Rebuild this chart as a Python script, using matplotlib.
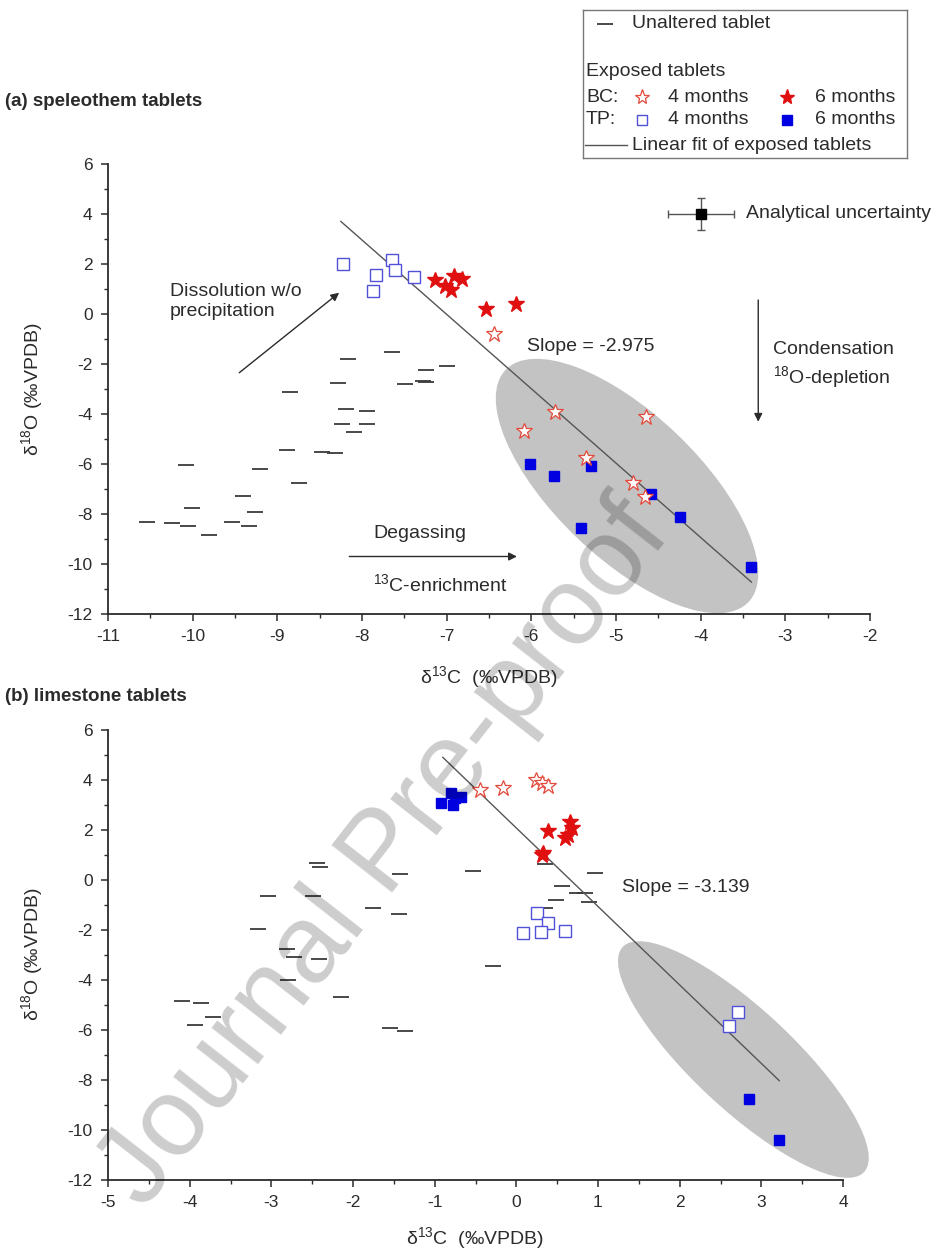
"""
Stable isotope cross-plot of speleothem and limestone tablets (d13C vs d18O).
"""

import matplotlib

matplotlib.use("Agg")
import matplotlib.pyplot as plt
from matplotlib.patches import Ellipse
from matplotlib.ticker import MultipleLocator
from matplotlib.transforms import IdentityTransform

# ─────────────────────────────────────────────
# DATA — (a) speleothem tablets
# ─────────────────────────────────────────────
a_unalt_x = [-8.17, -7.64, -7.00, -7.24, -8.28, -7.49, -7.28, -7.24, -8.85, -8.19, -7.94, -8.24, -7.94,
             -8.09, -8.88, -8.47, -8.32, -8.74, -10.08, -9.21, -9.41, -10.01, -9.26, -10.54, -10.24,
             -10.05, -9.81, -9.53, -9.34]
a_unalt_y = [-1.80, -1.53, -2.07, -2.24, -2.77, -2.80, -2.67, -2.72, -3.13, -3.80, -3.87, -4.41, -4.41,
             -4.73, -5.44, -5.52, -5.57, -6.77, -6.04, -6.19, -7.28, -7.77, -7.91, -8.31, -8.37,
             -8.47, -8.84, -8.33, -8.47]
a_bc4_x = [-6.44, -5.72, -6.09, -4.65, -5.35, -4.80, -4.66]
a_bc4_y = [-0.80, -3.91, -4.67, -4.11, -5.75, -6.75, -7.31]
a_bc6_x = [-7.14, -7.02, -6.95, -6.91, -6.82, -6.53, -6.18]
a_bc6_y = [1.36, 1.12, 0.96, 1.52, 1.39, 0.19, 0.39]
a_tp4_x = [-8.23, -7.83, -7.87, -7.65, -7.61, -7.39]
a_tp4_y = [2.00, 1.56, 0.93, 2.16, 1.76, 1.49]
a_tp6_x = [-6.02, -5.73, -5.30, -5.41, -4.59, -4.24, -3.41]
a_tp6_y = [-6.01, -6.47, -6.07, -8.57, -7.20, -8.11, -10.13]
a_fit_slope = -2.975
a_fit_icpt = -20.84
a_fit_x = [-8.25, -3.40]

# ─────────────────────────────────────────────
# DATA — (b) limestone tablets
# ─────────────────────────────────────────────
b_unalt_x = [-2.44, -2.40, -3.04, -2.49, -1.43, -0.53, -1.75, -1.44, -3.16, -2.81, -2.72, -2.42, -2.80,
             -2.15, -4.10, -3.86, -3.71, -3.93, -1.55, -1.36, -0.29, 0.35, 0.96, 0.56, 0.74, 0.84,
             0.49, 0.89, 0.35]
b_unalt_y = [0.65, 0.51, -0.66, -0.66, 0.22, 0.35, -1.13, -1.38, -1.97, -2.79, -3.11, -3.17, -4.03,
             -4.69, -4.85, -4.95, -5.50, -5.82, -5.95, -6.05, -3.46, 0.61, 0.27, -0.26, -0.55, -0.55,
             -0.82, -0.89, -1.15]
b_bc4_x = [-0.45, -0.16, 0.24, 0.31, 0.39]
b_bc4_y = [3.58, 3.67, 4.00, 3.87, 3.74]
b_bc6_x = [0.39, 0.66, 0.68, 0.63, 0.60, 0.31, 0.33]
b_bc6_y = [1.95, 2.30, 2.05, 1.80, 1.65, 0.98, 1.05]
b_tp4_x = [0.25, 0.39, 0.08, 0.30, 0.60, 2.72, 2.60]
b_tp4_y = [-1.35, -1.75, -2.13, -2.09, -2.05, -5.29, -5.86]
b_tp6_x = [-0.92, -0.78, -0.75, -0.68, -0.80, 2.85, 3.22]
b_tp6_y = [3.05, 3.00, 3.25, 3.30, 3.45, -8.79, -10.42]
b_fit_slope = -3.139
b_fit_icpt = 2.06
b_fit_x = [-0.90, 3.22]

# ─────────────────────────────────────────────
# STYLE
# ─────────────────────────────────────────────
INK = "#2b2b2b"
DASH = "#3a3a3a"
RED = "#e01010"
RED_OPEN = "#e24a3c"
BLUE = "#0000e0"
BLUE_OPEN = "#5050d8"
FIT = "#555555"
SHADE = "#c3c3c3"

plt.rcParams.update(
    {
        "font.family": ["Liberation Sans", "DejaVu Sans"],
        "mathtext.fontset": "custom",
        "mathtext.rm": "Liberation Sans",
        "mathtext.it": "Liberation Sans:italic",
        "mathtext.bf": "Liberation Sans:bold",
        "axes.unicode_minus": False,
        "font.size": 14,
        "text.color": INK,
    }
)

W, H = 939.0, 1253.0
fig = plt.figure(figsize=(W / 100, H / 100), dpi=100)


def px_rect(left, top, right, bottom):
    return [left / W, 1 - bottom / H, (right - left) / W, (bottom - top) / H]


def style_axes(ax, xlim, xpad):
    ax.set_xlim(*xlim)
    ax.set_ylim(-12, 6)
    ax.set_facecolor("none")
    ax.xaxis.set_major_locator(MultipleLocator(1))
    ax.xaxis.set_minor_locator(MultipleLocator(0.5))
    ax.yaxis.set_major_locator(MultipleLocator(2))
    ax.yaxis.set_minor_locator(MultipleLocator(1))
    for s in ("top", "right"):
        ax.spines[s].set_visible(False)
    for s in ("left", "bottom"):
        ax.spines[s].set_linewidth(1.3)
        ax.spines[s].set_color(INK)
    ax.tick_params(which="major", direction="out", length=5, width=1.1, labelsize=12.5, colors=INK, pad=6)
    ax.tick_params(which="minor", direction="out", length=3, width=1.0, colors=INK)
    ax.set_xlabel("δ$^{13}$C  (‰VPDB)", fontsize=14, labelpad=xpad, color=INK)
    ax.set_ylabel("δ$^{18}$O (‰VPDB)", fontsize=14, labelpad=16, color=INK)


def shade(ax, center, half_long, half_short, angle):
    # ellipse drawn in pixel space so it keeps its shape on the unequal axes
    cx, cy = ax.transData.transform(center)
    ax.add_patch(
        Ellipse((cx, cy), 2 * half_long, 2 * half_short, angle=angle, transform=IdentityTransform(),
                facecolor=SHADE, edgecolor="none", zorder=1, clip_on=False)
    )


def draw_points(ax, ux, uy, bc4x, bc4y, bc6x, bc6y, tp4x, tp4y, tp6x, tp6y, slope, icpt, fitx):
    ax.plot(ux, uy, ls="none", marker="_", ms=12, mew=1.3, color=DASH, zorder=3)
    fy = [slope * v + icpt for v in fitx]
    ax.plot(fitx, fy, color=FIT, lw=1.0, zorder=4)
    ax.plot(tp4x, tp4y, ls="none", marker="s", ms=8, mfc="white", mec=BLUE_OPEN, mew=1.0, zorder=5)
    ax.plot(tp6x, tp6y, ls="none", marker="s", ms=7.5, color=BLUE, zorder=5)
    ax.plot(bc4x, bc4y, ls="none", marker="*", ms=12, mfc="white", mec=RED_OPEN, mew=0.9, zorder=6)
    ax.plot(bc6x, bc6y, ls="none", marker="*", ms=12, color=RED, zorder=6)


def arrow(ax, start, end):
    ax.annotate("", xy=end, xytext=start,
                arrowprops=dict(arrowstyle="-|>", color=INK, lw=1.0, mutation_scale=12, shrinkA=0, shrinkB=0))


# ══════════════════════════════════════════════
# PANEL (a) — speleothem tablets
# ══════════════════════════════════════════════
ax_a = fig.add_axes(px_rect(108, 164, 870, 614))
style_axes(ax_a, (-11, -2), 14)
shade(ax_a, (-4.87, -6.88), 168, 72, -43.7)
draw_points(ax_a, a_unalt_x, a_unalt_y, a_bc4_x, a_bc4_y, a_bc6_x, a_bc6_y,
            a_tp4_x, a_tp4_y, a_tp6_x, a_tp6_y, a_fit_slope, a_fit_icpt, a_fit_x)

ax_a.text(-10.27, 0.5, "Dissolution w/o\nprecipitation", ha="left", va="center", fontsize=14, linespacing=1.3)
arrow(ax_a, (-9.45, -2.35), (-8.27, 0.85))
ax_a.text(-7.32, -8.77, "Degassing", ha="center", va="center", fontsize=14)
arrow(ax_a, (-8.15, -9.7), (-6.17, -9.7))
ax_a.text(-7.08, -10.8, "$^{13}$C-enrichment", ha="center", va="center", fontsize=14)
arrow(ax_a, (-3.32, 0.56), (-3.32, -4.31))
ax_a.text(-3.14, -1.41, "Condensation", ha="left", va="center", fontsize=14)
ax_a.text(-3.14, -2.51, "$^{18}$O-depletion", ha="left", va="center", fontsize=14)
ax_a.text(-6.05, -1.3, "Slope = -2.975", ha="left", va="center", fontsize=14)

ax_a.errorbar(-4.0, 4.0, xerr=0.39, yerr=0.65, fmt="s", color="black", ms=7, ecolor="#555555",
              elinewidth=1.0, capsize=3, capthick=1.0, zorder=6)
ax_a.text(-3.46, 4.0, "Analytical uncertainty", ha="left", va="center", fontsize=14)

fig.text(5 / W, 1 - 102 / H, "(a) speleothem tablets", ha="left", va="center", fontsize=13.5,
         fontweight="bold", color=INK)

# ══════════════════════════════════════════════
# PANEL (b) — limestone tablets
# ══════════════════════════════════════════════
ax_b = fig.add_axes(px_rect(108, 729.5, 843, 1179.5))
style_axes(ax_b, (-5, 4), 11)
shade(ax_b, (2.78, -7.2), 165, 50, -43.0)
draw_points(ax_b, b_unalt_x, b_unalt_y, b_bc4_x, b_bc4_y, b_bc6_x, b_bc6_y,
            b_tp4_x, b_tp4_y, b_tp6_x, b_tp6_y, b_fit_slope, b_fit_icpt, b_fit_x)
ax_b.text(1.30, -0.31, "Slope = -3.139", ha="left", va="center", fontsize=14)

fig.text(5 / W, 1 - 697 / H, "(b) limestone tablets", ha="left", va="center", fontsize=13.5,
         fontweight="bold", color=INK)

# ─────────────────────────────────────────────
# LEGEND (drawn by hand, pixel coordinates)
# ─────────────────────────────────────────────
leg = fig.add_axes(px_rect(583, 10, 907, 158))
leg.set_xlim(583, 907)
leg.set_ylim(158, 10)
leg.set_xticks([])
leg.set_yticks([])
leg.set_facecolor("white")
for s in leg.spines.values():
    s.set_color("#777777")
    s.set_linewidth(1.0)

leg.plot([605], [24], marker="_", ms=12, mew=1.3, color=DASH)
leg.text(632, 24, "Unaltered tablet", ha="left", va="center", fontsize=14)
leg.text(586, 72, "Exposed tablets", ha="left", va="center", fontsize=14)
leg.text(586, 97, "BC:", ha="left", va="center", fontsize=14)
leg.plot([642], [97], marker="*", ms=11, mfc="white", mec=RED_OPEN, mew=0.9)
leg.text(668, 97, "4 months", ha="left", va="center", fontsize=14)
leg.plot([787], [97], marker="*", ms=11, color=RED)
leg.text(815, 97, "6 months", ha="left", va="center", fontsize=14)
leg.text(586, 120, "TP:", ha="left", va="center", fontsize=14)
leg.plot([642], [120], marker="s", ms=6.5, mfc="white", mec=BLUE_OPEN, mew=1.0)
leg.text(668, 120, "4 months", ha="left", va="center", fontsize=14)
leg.plot([787], [120], marker="s", ms=6.5, color=BLUE)
leg.text(815, 120, "6 months", ha="left", va="center", fontsize=14)
leg.plot([585, 627], [145, 145], color=FIT, lw=1.0)
leg.text(632, 145, "Linear fit of exposed tablets", ha="left", va="center", fontsize=14)

# ─────────────────────────────────────────────
# WATERMARK
# ─────────────────────────────────────────────
fig.text(0.41, 0.318, "Journal Pre-proof", rotation=52, rotation_mode="anchor", ha="center", va="center",
         fontsize=80, color="black", alpha=0.2, zorder=20)

fig.savefig("out.png", dpi=100)
